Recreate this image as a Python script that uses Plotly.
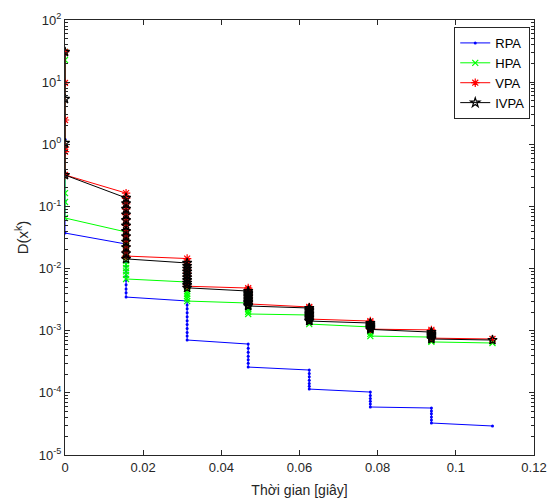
import plotly.graph_objects as go

# Time stamps (s) at which the iterates were recorded
times = [0.0, 0.015625, 0.03125, 0.046875, 0.0625, 0.078125, 0.09375, 0.109375]

# D(x^k) for every iterate, grouped by the time stamp it was recorded at
rpa = [
    [30.6, 1.2, 0.12, 0.0373],
    [0.0248, 0.0210, 0.0178, 0.0150, 0.0127, 0.0107, 0.0091, 0.0077, 0.0065, 0.0055, 0.0047, 0.0041, 0.00348],
    [0.00301, 0.00260, 0.00225, 0.00194, 0.00168, 0.00145, 0.00126, 0.00109, 0.00094, 0.00082, 0.000708],
    [0.00061, 0.00052, 0.00045, 0.00039, 0.00034, 0.00030, 0.00026],
    [0.000233, 0.000205, 0.000181, 0.000160, 0.000142, 0.000128, 0.000115],
    [0.000103, 0.000091, 0.000081, 0.000073, 0.000066, 0.0000592],
    [0.000057, 0.000051, 0.000046, 0.000041, 0.0000365, 0.0000327],
    [0.0000293],
]
hpa = [
    [30.6, 22.7, 0.164, 0.118, 0.0651],
    [0.0388, 0.0330, 0.0282, 0.0241, 0.0206, 0.0178, 0.0154, 0.0134, 0.0117, 0.0102, 0.0090, 0.0079, 0.0068],
    [0.00608, 0.0056, 0.0051, 0.0047, 0.0043, 0.0039, 0.0036, 0.0033, 0.0030],
    [0.00279, 0.00258, 0.00238, 0.00220, 0.00202, 0.00186],
    [0.00179, 0.00165, 0.00152, 0.00140, 0.00128],
    [0.00115, 0.00105, 0.00097, 0.00089, 0.00082],
    [0.00079, 0.00073, 0.00069, 0.00066],
    [0.000634],
]
vpa = [
    [30.6, 9.7, 2.46, 0.90, 0.76, 0.321],
    [0.164, 0.135, 0.110, 0.090, 0.074, 0.061, 0.050, 0.041, 0.034, 0.028, 0.023, 0.019, 0.0159],
    [0.0145, 0.0130, 0.0117, 0.0105, 0.0095, 0.0085, 0.0077, 0.0069, 0.0062, 0.0057, 0.0052],
    [0.00486, 0.0046, 0.0043, 0.0040, 0.0038, 0.0036, 0.0034, 0.0032, 0.0030, 0.00285, 0.0027],
    [0.00241, 0.00228, 0.00216, 0.00204, 0.00193, 0.00182, 0.00172, 0.00163, 0.00154],
    [0.00143, 0.00136, 0.00129, 0.00123, 0.00117, 0.00111, 0.00106],
    [0.00103, 0.00098, 0.00093, 0.00088, 0.00084, 0.00080, 0.00076],
    [0.000735],
]
ivpa = [
    [30.6, 5.36, 1.05, 0.32],
    [0.137, 0.112, 0.091, 0.074, 0.060, 0.049, 0.040, 0.033, 0.027, 0.022, 0.0176, 0.0143],
    [0.0123, 0.0110, 0.0099, 0.0089, 0.0080, 0.0072, 0.0065, 0.0059, 0.0054, 0.0049],
    [0.00435, 0.0041, 0.0039, 0.0037, 0.0035, 0.0033, 0.0031, 0.0029, 0.0028, 0.0026, 0.0025],
    [0.00232, 0.00220, 0.00209, 0.00198, 0.00188, 0.00178, 0.00169, 0.00161, 0.00153, 0.00146, 0.00143],
    [0.00133, 0.00127, 0.00122, 0.00117, 0.00113, 0.00109, 0.00105],
    [0.00095, 0.00090, 0.00086, 0.00082, 0.00078, 0.000735],
    [0.000708],
]

x_ticks = [0, 0.02, 0.04, 0.06, 0.08, 0.1, 0.12]
x_ticklabels = ["0", "0.02", "0.04", "0.06", "0.08", "0.1", "0.12"]
y_exponents = [-5, -4, -3, -2, -1, 0, 1, 2]


def flatten(groups):
    xs, ys = [], []
    for t, vals in zip(times, groups):
        xs.extend([t] * len(vals))
        ys.extend(vals)
    return xs, ys


series = [
    ("RPA", rpa, "#0000ff", dict(symbol="circle", size=3, color="#0000ff")),
    ("HPA", hpa, "#00ff00", dict(symbol="x-thin", size=6, color="#00ff00",
                                 line=dict(color="#00ff00", width=1.2))),
    ("VPA", vpa, "#ff0000", dict(symbol="asterisk", size=7, color="#ff0000",
                                 line=dict(color="#ff0000", width=1.2))),
    ("IVPA", ivpa, "#000000", dict(symbol="star-open", size=7, color="#000000",
                                   line=dict(color="#000000", width=1.2))),
]

fig = go.Figure()
for name, groups, color, marker in series:
    xs, ys = flatten(groups)
    fig.add_trace(go.Scatter(
        x=xs, y=ys, name=name, mode="lines+markers",
        line=dict(color=color, width=1), marker=marker,
    ))

minor_vals = [m * 10 ** e for e in range(-5, 2) for m in range(2, 10)]
axis_color = "#262626"

fig.update_layout(
    width=550, height=502,
    margin=dict(l=65, r=16, t=20, b=47, autoexpand=False),
    paper_bgcolor="white", plot_bgcolor="white",
    font=dict(family="Liberation Sans, Arial, sans-serif", size=13, color=axis_color),
    showlegend=True,
    legend=dict(
        x=0.992, xanchor="right", y=0.984, yanchor="top",
        bordercolor=axis_color, borderwidth=1, bgcolor="white",
        font=dict(size=13, color="#000000"),
    ),
    xaxis=dict(
        range=[0, 0.12], tickvals=x_ticks, ticktext=x_ticklabels,
        ticks="inside", ticklen=5, tickcolor=axis_color,
        showline=True, linecolor=axis_color, linewidth=1, mirror="allticks",
        showgrid=False, zeroline=False, automargin=False,
        title=dict(text="Thời gian [giây]", font=dict(size=14), standoff=11),
    ),
    yaxis=dict(
        type="log", range=[-5, 2],
        tickvals=[10.0 ** e for e in y_exponents],
        ticktext=["10<sup>%d</sup>" % e for e in y_exponents],
        ticks="inside", ticklen=5, tickcolor=axis_color,
        minor=dict(tickvals=minor_vals, ticks="inside", ticklen=3, tickcolor=axis_color),
        showline=True, linecolor=axis_color, linewidth=1, mirror="allticks",
        showgrid=False, zeroline=False, automargin=False,
        title=dict(text="D(x<sup>k</sup>)", font=dict(size=15), standoff=6),
    ),
)

fig.write_html("out.html")
